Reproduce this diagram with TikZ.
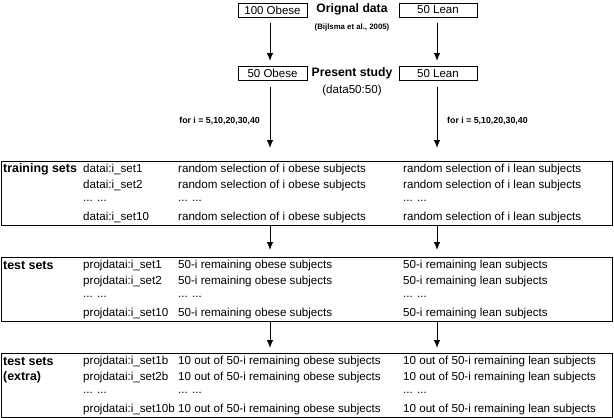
\documentclass[tikz,border=0pt]{standalone}
\usepackage{fontspec}
\setmainfont{Liberation Sans}
\usetikzlibrary{arrows.meta}
\tikzset{>={Latex[length=8pt,width=6.5pt]}}
\tikzset{
    box/.style={draw,line width=1pt,inner sep=0pt,minimum height=14pt,
        font=\fontsize{11.5}{13}\selectfont},
    setbox/.style={draw,line width=1.2pt,anchor=north west,inner sep=0pt,
        minimum width=611pt,minimum height=64pt},
    txt/.style={anchor=west,inner sep=0pt,font=\fontsize{11.6}{13}\selectfont},
    hd/.style={anchor=west,inner sep=0pt,font=\fontsize{12.4}{14}\selectfont\bfseries},
    title/.style={inner sep=0pt,font=\fontsize{12.2}{14}\selectfont\bfseries},
    note/.style={inner sep=0pt,font=\fontsize{8.8}{10}\selectfont\bfseries},
    flow/.style={->,line width=1pt}
}
\newcommand\setrow[5]{
    \node[txt] (#1a) at (83,#2) {#3};
    \node[txt] (#1b) at (178,#2) {#4};
    \node[txt] (#1c) at (403,#2) {#5};
}

\begin{document}
\begin{tikzpicture}[x=1pt,y=-1pt]
            \useasboundingbox (0,0) rectangle (614,418);
            \coordinate (cL) at (270,0);
            \coordinate (cR) at (437,0);
            \node[box,minimum width=69pt] (obeseA) at (272.5,10) {100 Obese};
            \node[box,minimum width=78pt] (leanA)  at (438,10)   {50 Lean};
            \node[title] (orig) at (352,9) {Orignal data};
            \node[note,font=\fontsize{7.8}{9}\selectfont\bfseries] (origref)
                at (352,27) {(Bijlsma et al., 2005)};
            \node[box,minimum width=69pt] (obeseB) at (272.5,73.5) {50 Obese};
            \node[box,minimum width=78pt] (leanB)  at (438,73.5)   {50 Lean};
            \node[title] (present) at (352,73) {Present study};
            \node[txt,anchor=center] (presentref) at (352,90) {(data50:50)};
            \node[note,anchor=east] (forL) at (260,121) {for i = 5,10,20,30,40};
            \node[note,anchor=west] (forR) at (447,121) {for i = 5,10,20,30,40};
            \node[setbox] (train) at (1,161) {};
            \node[setbox] (test)  at (1,257) {};
            \node[setbox] (extra) at (1,353) {};
            \draw[flow,shorten <=5pt,shorten >=5pt] (obeseA.south -| cL) -- (obeseB.north -| cL);
            \draw[flow,shorten <=5pt,shorten >=5pt] (leanA.south -| cR) -- (leanB.north -| cR);
            \draw[flow,shorten <=6pt,shorten >=13pt] (obeseB.south -| cL) -- (train.north -| cL);
            \draw[flow,shorten <=6pt,shorten >=13pt] (leanB.south -| cR) -- (train.north -| cR);
            \draw[flow,shorten >=7pt] (train.south -| cL) -- (test.north -| cL);
            \draw[flow,shorten >=7pt] (train.south -| cR) -- (test.north -| cR);
            \draw[flow,shorten >=5pt] (test.south -| cL) -- (extra.north -| cL);
            \draw[flow,shorten >=5pt] (test.south -| cR) -- (extra.north -| cR);
            \node[hd] (trainlab) at (3,169.5) {training sets};
            \setrow{tr1}{169.5}{datai:i\_set1}{random selection of i obese subjects}{random selection of i lean subjects}
            \setrow{tr2}{185.5}{datai:i\_set2}{random selection of i obese subjects}{random selection of i lean subjects}
            \setrow{tr3}{201}{... ...}{... ...}{... ...}
            \setrow{tr4}{217}{datai:i\_set10}{random selection of i obese subjects}{random selection of i lean subjects}
            \node[hd] (testlab) at (3,265.5) {test sets};
            \setrow{te1}{265.5}{projdatai:i\_set1}{50-i remaining obese subjects}{50-i remaining lean subjects}
            \setrow{te2}{281.5}{projdatai:i\_set2}{50-i remaining obese subjects}{50-i remaining lean subjects}
            \setrow{te3}{297}{... ...}{... ...}{... ...}
            \setrow{te4}{313}{projdatai:i\_set10}{50-i remaining obese subjects}{50-i remaining lean subjects}
            \node[hd] (extralab)  at (3,361.5) {test sets};
            \node[hd] (extralab2) at (3,377.5) {(extra)};
            \setrow{ex1}{361.5}{projdatai:i\_set1b}{10 out of 50-i remaining obese subjects}{10 out of 50-i remaining lean subjects}
            \setrow{ex2}{377.5}{projdatai:i\_set2b}{10 out of 50-i remaining obese subjects}{10 out of 50-i remaining lean subjects}
            \setrow{ex3}{393}{... ...}{... ...}{... ...}
            \setrow{ex4}{409}{projdatai:i\_set10b}{10 out of 50-i remaining obese subjects}{10 out of 50-i remaining lean subjects}
\end{tikzpicture}
\end{document}
